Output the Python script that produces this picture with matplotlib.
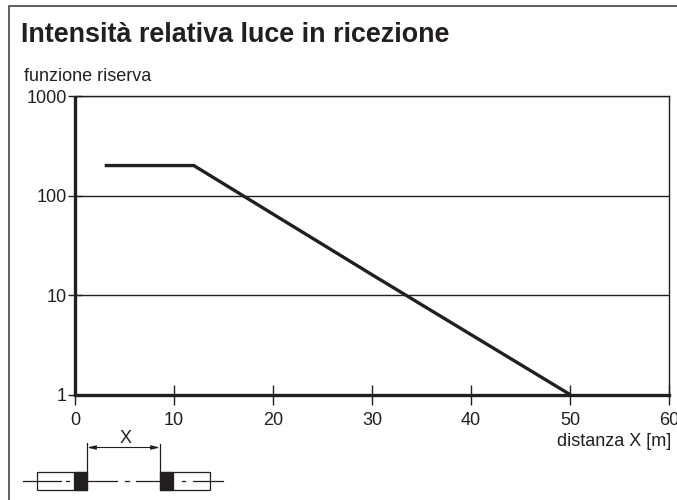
import matplotlib
matplotlib.use("Agg")
import matplotlib.pyplot as plt
from matplotlib.patches import Rectangle
from matplotlib.lines import Line2D

plt.rcParams['font.family'] = ['Liberation Sans', 'DejaVu Sans']

TITLE = "Intensità relativa luce in ricezione"
YLABEL = "funzione riserva"
XLABEL = "distanza X [m]"
x_ticks = [0, 10, 20, 30, 40, 50, 60]
y_ticks = [1, 10, 100, 1000]
y_ticklabels = ["1", "10", "100", "1000"]
curve_x = [3, 12, 30, 50]
curve_y = [200, 200, 16, 1]
wall_x = [0, 0]
wall_y = [1, 1000]

W, H = 677, 500
DARK = "#231f20"
FS = 13
fig = plt.figure(figsize=(W / 100, H / 100), dpi=100, facecolor="white")

def px(x, y):
    return x / W, 1 - y / H

l, r, t, b = 75, 669, 96, 394.5
ax = fig.add_axes([l / W, 1 - b / H, (r - l) / W, (b - t) / H])
ax.set_xlim(0, 60)
ax.set_yscale("log")
ax.set_ylim(1, 1000)
ax.set_xticks(x_ticks)
ax.set_yticks(y_ticks)
ax.set_yticklabels(y_ticklabels)
ax.minorticks_off()
ax.tick_params(axis="both", direction="inout", length=15, width=1.0, color=DARK,
               labelsize=FS, labelcolor=DARK)
ax.tick_params(axis="x", pad=5)
ax.tick_params(axis="y", pad=1, length=10)
ax.grid(axis="y", color=DARK, lw=1.0)
ax.set_axisbelow(True)
for s in ["top", "right"]:
    ax.spines[s].set_linewidth(1.0)
    ax.spines[s].set_color(DARK)
ax.spines["left"].set_visible(False)
ax.spines["bottom"].set_linewidth(2.4)
ax.spines["bottom"].set_color(DARK)

ax.plot(wall_x, wall_y, color=DARK, lw=2.4, clip_on=False, solid_capstyle="butt")
ax.plot(curve_x, curve_y, color=DARK, lw=2.4, clip_on=False, solid_capstyle="butt")

fig.text(*px(21, 42), TITLE, fontsize=19.35, fontweight="bold", color=DARK,
         va="baseline", ha="left")
fig.text(*px(24, 81), YLABEL, fontsize=FS, color=DARK, va="baseline", ha="left")
fig.text(*px(671, 446), XLABEL, fontsize=FS, color=DARK, va="baseline", ha="right")

# outer frame
def line(xs, ys, lw=1.0, **kw):
    fig.add_artist(Line2D([x / W for x in xs], [1 - y / H for y in ys],
                          color=kw.pop("color", DARK), lw=lw, **kw))

line([8.5, 8.5, 677], [500, 5.5, 5.5], lw=1.2, color="#444444")

# sensor diagram
def rect(x0, y0, x1, y1, fc="white", lw=0.9):
    fig.add_artist(Rectangle((x0 / W, 1 - y1 / H), (x1 - x0) / W, (y1 - y0) / H,
                             transform=fig.transFigure, fc=fc, ec=DARK, lw=lw))

rect(37, 471.5, 87, 489.5)
rect(160, 471.5, 210, 489.5)
rect(74, 471.5, 87, 489.5, fc=DARK)
rect(160, 471.5, 173, 489.5, fc=DARK)
line([23, 61], [480.5, 480.5], lw=0.9)
line([66, 69], [480.5, 480.5], lw=0.9)
line([87, 117], [480.5, 480.5], lw=0.9)
line([125, 129], [480.5, 480.5], lw=0.9)
line([136, 160], [480.5, 480.5], lw=0.9)
line([182, 185], [480.5, 480.5], lw=0.9)
line([193, 223], [480.5, 480.5], lw=0.9)
line([87, 87], [443, 472], lw=0.9)
line([160, 160], [444, 472], lw=0.9)
ax.annotate("", xy=(160 / W, 1 - 447.5 / H), xytext=(87 / W, 1 - 447.5 / H),
            xycoords="figure fraction", textcoords="figure fraction",
            arrowprops=dict(arrowstyle="<|-|>,head_length=0.5,head_width=0.12",
                            color=DARK, lw=0.8, shrinkA=0, shrinkB=0))
fig.text(*px(126, 443), "X", fontsize=FS, color=DARK, ha="center", va="baseline")

fig.savefig("out.png", dpi=100)
